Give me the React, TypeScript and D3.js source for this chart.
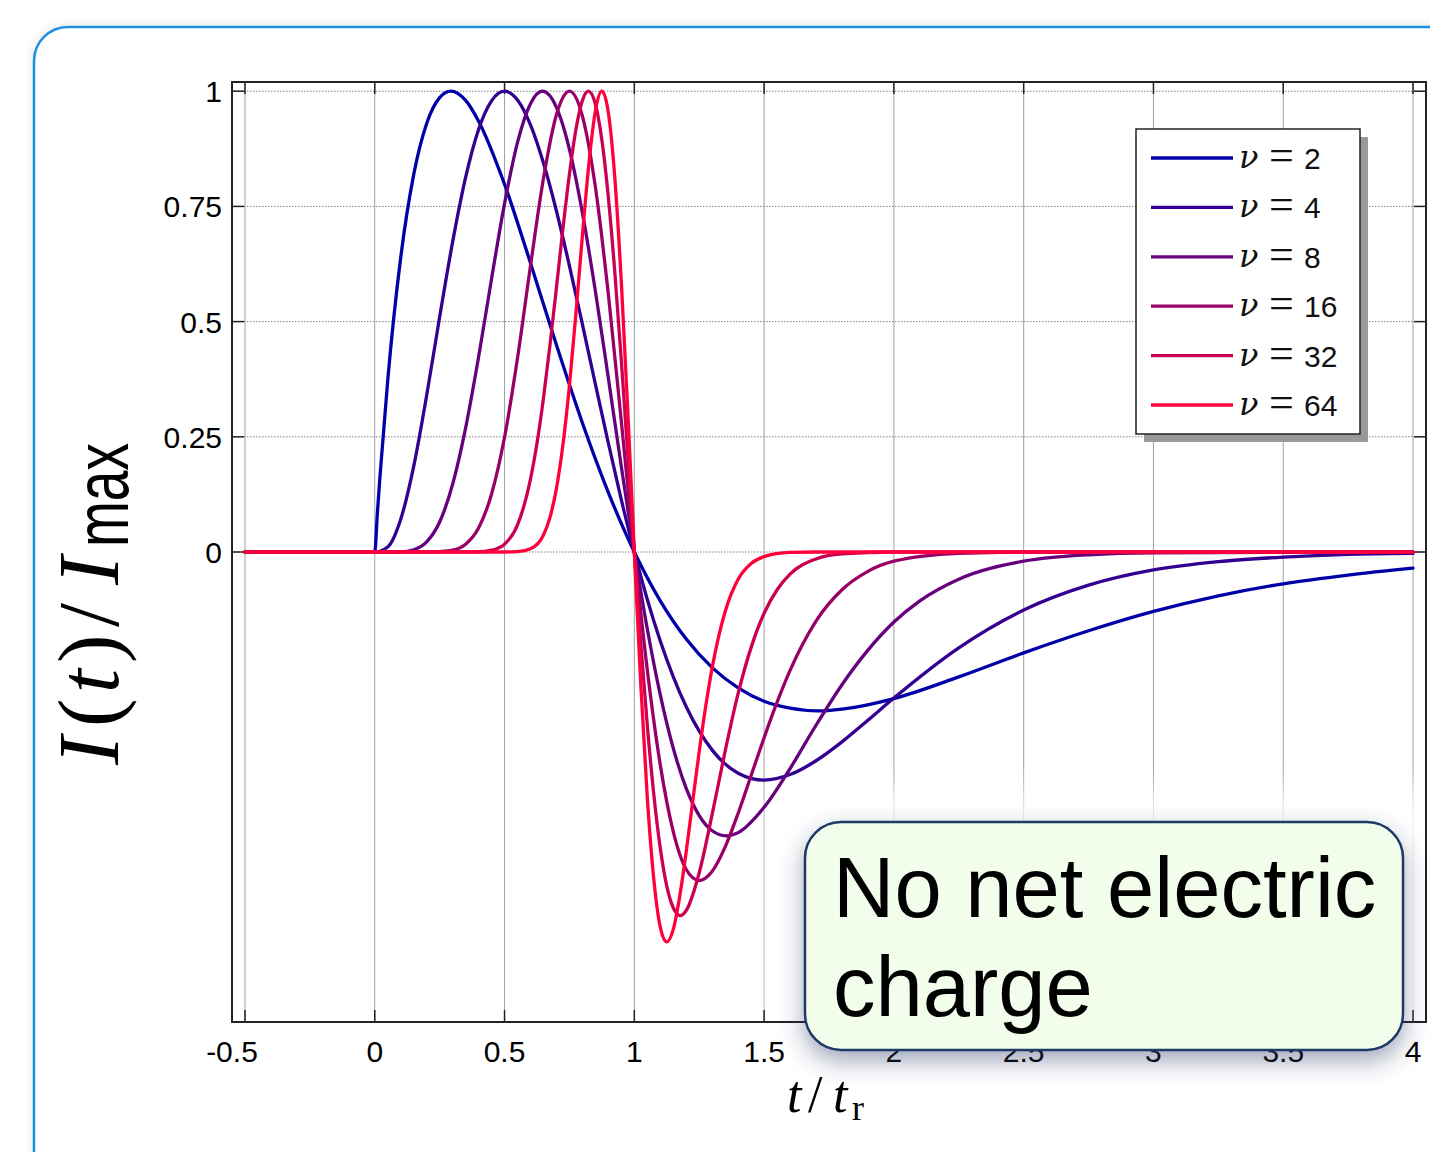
import React from "react";
import * as d3 from "d3";

// normalised current pulses I(t)/Imax as [t/tr, value]
const nu2: [number, number][] = [
  [-0.5, 0], [0, 0], [0.01, 0.084], [0.02, 0.163], [0.05, 0.373], [0.1, 0.639], [0.15, 0.819],
  [0.2, 0.93], [0.25, 0.986], [0.293, 1], [0.35, 0.98], [0.4, 0.935], [0.5, 0.798], [0.6, 0.627],
  [0.7, 0.449], [0.8, 0.28], [0.9, 0.129], [1, 0], [1.1, -0.106], [1.2, -0.189], [1.3, -0.251],
  [1.4, -0.295], [1.5, -0.324], [1.6, -0.339], [1.707, -0.345], [1.8, -0.341], [2, -0.318],
  [2.25, -0.271], [2.5, -0.219], [2.75, -0.171], [3, -0.129], [3.25, -0.095], [3.5, -0.069],
  [3.75, -0.05], [4, -0.035],
];
const nu4: [number, number][] = [
  [-0.5, 0], [0, 0], [0.05, 0.011], [0.1, 0.071], [0.15, 0.186], [0.2, 0.34], [0.25, 0.51],
  [0.3, 0.673], [0.35, 0.813], [0.4, 0.917], [0.45, 0.979], [0.5, 1], [0.55, 0.981], [0.6, 0.927],
  [0.65, 0.844], [0.7, 0.74], [0.75, 0.621], [0.8, 0.494], [0.85, 0.364], [0.9, 0.236],
  [0.95, 0.113], [1, 0], [1.05, -0.103], [1.1, -0.193], [1.2, -0.336], [1.3, -0.43], [1.4, -0.48],
  [1.5, -0.495], [1.6, -0.483], [1.7, -0.453], [1.8, -0.412], [1.9, -0.365], [2, -0.317],
  [2.25, -0.208], [2.5, -0.126], [2.75, -0.072], [3, -0.039], [3.25, -0.021], [3.5, -0.011],
  [3.75, -0.005], [4, -0.003],
];
const nu8: [number, number][] = [
  [-0.5, 0], [0, 0], [0.1, 0.0004], [0.15, 0.005], [0.2, 0.022], [0.25, 0.065], [0.3, 0.147],
  [0.35, 0.269], [0.4, 0.423], [0.45, 0.593], [0.5, 0.756], [0.55, 0.889], [0.6, 0.973],
  [0.646, 1], [0.7, 0.965], [0.75, 0.874], [0.8, 0.736], [0.85, 0.566], [0.9, 0.377],
  [0.95, 0.185], [1, 0], [1.05, -0.167], [1.1, -0.31], [1.15, -0.426], [1.2, -0.513],
  [1.25, -0.572], [1.3, -0.605], [1.354, -0.616], [1.4, -0.609], [1.5, -0.554], [1.6, -0.47],
  [1.7, -0.376], [1.8, -0.288], [1.9, -0.213], [2, -0.152], [2.1, -0.106], [2.25, -0.059],
  [2.5, -0.02], [2.75, -0.006], [3, -0.002], [4, 0],
];
const nu16: [number, number][] = [
  [-0.5, 0], [0, 0], [0.2, 0], [0.25, 0.001], [0.3, 0.004], [0.35, 0.017], [0.4, 0.052],
  [0.45, 0.126], [0.5, 0.249], [0.55, 0.421], [0.6, 0.621], [0.65, 0.811], [0.7, 0.949],
  [0.75, 1], [0.8, 0.946], [0.85, 0.792], [0.9, 0.559], [0.95, 0.283], [1, 0], [1.05, -0.256],
  [1.1, -0.462], [1.15, -0.607], [1.2, -0.689], [1.25, -0.713], [1.3, -0.693], [1.35, -0.64],
  [1.4, -0.567], [1.45, -0.485], [1.5, -0.403], [1.55, -0.326], [1.6, -0.257], [1.7, -0.15],
  [1.8, -0.082], [1.9, -0.042], [2, -0.02], [2.25, -0.003], [2.5, 0], [4, 0],
];
const nu32: [number, number][] = [
  [-0.5, 0], [0, 0], [0.4, 0.0005], [0.45, 0.004], [0.5, 0.017], [0.55, 0.059], [0.6, 0.158],
  [0.625, 0.236], [0.65, 0.334], [0.675, 0.449], [0.7, 0.574], [0.725, 0.702], [0.75, 0.82],
  [0.775, 0.917], [0.8, 0.98], [0.823, 1], [0.85, 0.972], [0.875, 0.894], [0.9, 0.769],
  [0.925, 0.606], [0.95, 0.415], [0.975, 0.209], [1, 0], [1.025, -0.199], [1.05, -0.376],
  [1.075, -0.526], [1.1, -0.643], [1.125, -0.725], [1.15, -0.772], [1.177, -0.789],
  [1.2, -0.778], [1.25, -0.696], [1.3, -0.569], [1.35, -0.432], [1.4, -0.307], [1.45, -0.207],
  [1.5, -0.133], [1.55, -0.082], [1.6, -0.048], [1.7, -0.015], [1.8, -0.004], [2, 0], [4, 0],
];
const nu64: [number, number][] = [
  [-0.5, 0], [0, 0], [0.5, 0], [0.55, 0.001], [0.6, 0.007], [0.65, 0.037], [0.675, 0.075],
  [0.7, 0.138], [0.725, 0.233], [0.75, 0.361], [0.775, 0.518], [0.8, 0.687], [0.825, 0.843],
  [0.85, 0.957], [0.875, 1], [0.9, 0.953], [0.925, 0.811], [0.95, 0.585], [0.975, 0.304],
  [1, 0], [1.025, -0.289], [1.05, -0.533], [1.075, -0.71], [1.1, -0.814], [1.125, -0.846],
  [1.15, -0.819], [1.175, -0.747], [1.2, -0.65], [1.225, -0.541], [1.25, -0.433],
  [1.275, -0.335], [1.3, -0.251], [1.35, -0.129], [1.4, -0.059], [1.45, -0.025], [1.5, -0.01],
  [1.6, -0.001], [1.7, 0], [4, 0],
];

const nuValues = ["2", "4", "8", "16", "32", "64"];
const nuColors = ["#0000a8", "#330092", "#66007d", "#990067", "#cc0052", "#ff003c"];
const seriesList = [nu2, nu4, nu8, nu16, nu32, nu64];

const xTicks = [-0.5, 0, 0.5, 1, 1.5, 2, 2.5, 3, 3.5, 4];
const xTickLabels = ["-0.5", "0", "0.5", "1", "1.5", "2", "2.5", "3", "3.5", "4"];
const yTicks = [0, 0.25, 0.5, 0.75, 1];
const yTickLabels = ["0", "0.25", "0.5", "0.75", "1"];

const W = 1430;
const H = 1152;

export default function App() {
  const x = d3.scaleLinear().domain([-0.55, 4.05]).range([232, 1426]);
  const y = d3.scaleLinear().domain([-1.02, 1.02]).range([1022, 82]);
  const [x0, x1] = x.range();
  const [yb, yt] = y.range();

  const line = d3
    .line<[number, number]>()
    .x((d) => x(d[0]))
    .y((d) => y(d[1]))
    .curve(d3.curveMonotoneX);

  const sans = "'Liberation Sans', Arial, Helvetica, sans-serif";
  const serif = "'Liberation Serif', 'Times New Roman', serif";
  const mathNu = "'DejaVu Serif', 'Liberation Serif', serif";
  const tickLen = 12;

  return (
    <svg
      width={W}
      height={H}
      style={{ position: "absolute", left: 0, top: 0, background: "#fff" }}
    >
      <defs>
        <filter id="frameShadow" x="-5%" y="-5%" width="110%" height="110%">
          <feDropShadow dx="0" dy="0" stdDeviation="5" floodColor="#000" floodOpacity="0.12" />
        </filter>
        <filter id="haze" x="-20%" y="-20%" width="140%" height="140%">
          <feGaussianBlur stdDeviation="14" />
        </filter>
        <filter id="boxShadow" x="-20%" y="-30%" width="140%" height="170%">
          <feDropShadow dx="0" dy="10" stdDeviation="12" floodColor="#2a3a66" floodOpacity="0.45" />
        </filter>
      </defs>

      {/* slide frame */}
      <rect
        x={34}
        y={27}
        width={1500}
        height={1250}
        rx={34}
        fill="#fff"
        stroke="#1e8fe0"
        strokeWidth={2.5}
        filter="url(#frameShadow)"
      />

      {/* grid */}
      {xTicks.map((t) => (
        <line key={"gx" + t} x1={x(t)} x2={x(t)} y1={yt} y2={yb} stroke="#a0a0a0" strokeWidth={1} />
      ))}
      {yTicks.map((v) => (
        <line
          key={"gy" + v}
          x1={x0}
          x2={x1}
          y1={y(v)}
          y2={y(v)}
          stroke="#808080"
          strokeWidth={1}
          strokeDasharray="1.5,1.5"
        />
      ))}

      {/* light haze round the callout */}
      <rect x={770} y={790} width={700} height={300} fill="#fff" opacity={0.8} filter="url(#haze)" />

      {/* axes box */}
      <rect x={x0} y={yt} width={x1 - x0} height={yb - yt} fill="none" stroke="#222" strokeWidth={2} />
      {xTicks.map((t) => (
        <g key={"tx" + t}>
          <line x1={x(t)} x2={x(t)} y1={yb} y2={yb - tickLen} stroke="#222" strokeWidth={1.5} />
          <line x1={x(t)} x2={x(t)} y1={yt} y2={yt + tickLen} stroke="#222" strokeWidth={1.5} />
        </g>
      ))}
      {yTicks.map((v) => (
        <g key={"ty" + v}>
          <line x1={x0} x2={x0 + tickLen} y1={y(v)} y2={y(v)} stroke="#222" strokeWidth={1.5} />
          <line x1={x1} x2={x1 - tickLen} y1={y(v)} y2={y(v)} stroke="#222" strokeWidth={1.5} />
        </g>
      ))}

      {/* tick labels */}
      {xTicks.map((t, i) => (
        <text
          key={"lx" + t}
          x={x(t) + (t < 0 ? -13 : 0)}
          y={yb + 40}
          textAnchor="middle"
          fontFamily={sans}
          fontSize={30}
          fill="#000"
        >
          {xTickLabels[i]}
        </text>
      ))}
      {yTicks.map((v, i) => (
        <text
          key={"ly" + v}
          x={x0 - 10}
          y={y(v) + 11}
          textAnchor="end"
          fontFamily={sans}
          fontSize={30}
          fill="#000"
        >
          {yTickLabels[i]}
        </text>
      ))}

      {/* curves */}
      {seriesList.map((s, i) => (
        <path
          key={"c" + i}
          d={line(s) || ""}
          fill="none"
          stroke={nuColors[i]}
          strokeWidth={3.3}
          strokeLinejoin="round"
          strokeLinecap="round"
        />
      ))}

      {/* legend */}
      <rect x={1144} y={137} width={224} height={305} fill="#999" />
      <rect x={1136} y={129} width={224} height={305} fill="#fff" stroke="#222" strokeWidth={1.5} />
      {nuValues.map((v, i) => {
        const ly = 158 + i * 49.4;
        return (
          <g key={"lg" + v}>
            <line x1={1151} x2={1233} y1={ly} y2={ly} stroke={nuColors[i]} strokeWidth={3.3} />
            <text x={1239} y={ly + 10} fontFamily={mathNu} fontStyle="italic" fontSize={32} fill="#111">
              ν
            </text>
            <text x={1269} y={ly + 12} fontFamily={serif} fontSize={44} fill="#111">
              =
            </text>
            <text x={1304} y={ly + 11} fontFamily={sans} fontSize={30} fill="#111">
              {v}
            </text>
          </g>
        );
      })}

      {/* y axis label */}
      <g transform="translate(118,765) rotate(-90)" fill="#000">
        <text x={0} y={0} fontFamily={serif} fontStyle="italic" fontSize={86}>I</text>
        <text x={38} y={0} fontFamily={serif} fontSize={86}>(</text>
        <text x={72} y={0} fontFamily={serif} fontStyle="italic" fontSize={86}>t</text>
        <text x={102} y={0} fontFamily={serif} fontSize={86}>)</text>
        <text x={138} y={0} fontFamily={serif} fontSize={86}>/</text>
        <text x={180} y={0} fontFamily={serif} fontStyle="italic" fontSize={86}>I</text>
        <text
          x={218}
          y={10}
          fontFamily={sans}
          fontSize={76}
          textLength={104}
          lengthAdjust="spacingAndGlyphs"
        >
          max
        </text>
      </g>

      {/* x axis label */}
      <g fill="#000">
        <text x={787} y={1112} fontFamily={serif} fontStyle="italic" fontSize={52}>t</text>
        <text x={808} y={1112} fontFamily={serif} fontSize={52}>/</text>
        <text x={833} y={1112} fontFamily={serif} fontStyle="italic" fontSize={52}>t</text>
        <text x={852} y={1120} fontFamily={serif} fontSize={36}>r</text>
      </g>

      {/* callout */}
      <rect
        x={805}
        y={822}
        width={598}
        height={228}
        rx={36}
        fill="#f3fdeb"
        stroke="#1d3a66"
        strokeWidth={2.5}
        filter="url(#boxShadow)"
      />
      <text x={833} y={917} fontFamily={sans} fontSize={85} fill="#000">
        No net electric
      </text>
      <text x={833} y={1016} fontFamily={sans} fontSize={85} fill="#000">
        charge
      </text>
    </svg>
  );
}
